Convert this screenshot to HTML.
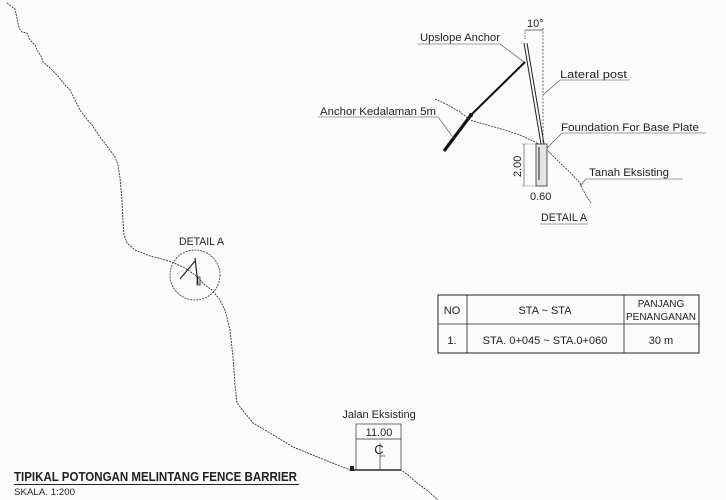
<!DOCTYPE html>
<html><head><meta charset="utf-8"><style>
html,body{margin:0;padding:0;background:#fbfbfb;}
svg{display:block;}
text{font-family:"Liberation Sans",sans-serif;fill:#222;}
</style></head><body>
<svg width="726" height="500" viewBox="0 0 726 500" xmlns="http://www.w3.org/2000/svg">
<rect x="0" y="0" width="726" height="500" fill="#fbfbfb"/>
<polyline fill="none" stroke="#333" stroke-width="0.9" stroke-dasharray="2,1"
 points="7,3 15,9 17,18 19,28 22,32 27,33 30,40 35,45 37,50 41,56 43,62 50,68 58,76 65,85 70,90 75,100 80,110 85,117 92,125 100,137 107,146 115,157 118,165 120,178 122,200 123,222 124,235 127,243 135,250 150,256 162,259 172,262 185,268 195,275 205,285 212,290 220,300 225,310 230,330 233,357 235,385 237,403 245,413 253,423 270,433 293,447 320,458 350,470 401,470 408,475 417,483 428,491 438,500"/>
<rect x="350" y="466" width="4" height="5" fill="#222"/>
<line x1="353" y1="470" x2="401" y2="470" stroke="#222" stroke-width="1.5"/>
<circle cx="195" cy="275" r="25" fill="none" stroke="#333" stroke-width="0.8" stroke-dasharray="2,1"/>
<line x1="180" y1="279" x2="195" y2="261" stroke="#222" stroke-width="1.2"/>
<line x1="195" y1="258" x2="198" y2="284" stroke="#222" stroke-width="1.2"/>
<rect x="197" y="277" width="3" height="8" fill="none" stroke="#222" stroke-width="0.8"/>
<text x="179" y="245" font-size="11" textLength="45" lengthAdjust="spacingAndGlyphs">DETAIL A</text>

<line x1="543" y1="28" x2="543" y2="145" stroke="#444" stroke-width="0.8" stroke-dasharray="2,1.5"/>
<line x1="525" y1="30" x2="525" y2="40" stroke="#444" stroke-width="0.7" stroke-dasharray="1.5,1"/>
<line x1="525" y1="30" x2="543" y2="30" stroke="#444" stroke-width="0.7"/>
<text x="527" y="27" font-size="11">10°</text>
<line x1="524" y1="43" x2="541" y2="144" stroke="#222" stroke-width="1"/>
<line x1="527" y1="43" x2="544" y2="144" stroke="#222" stroke-width="1"/>
<line x1="525" y1="62" x2="471" y2="115" stroke="#111" stroke-width="2"/>
<line x1="471" y1="115" x2="444" y2="151" stroke="#111" stroke-width="3.2"/>
<circle cx="471" cy="115" r="2" fill="#111"/>
<polyline fill="none" stroke="#333" stroke-width="0.8" stroke-dasharray="2,1"
 points="435,99 448,105 460,112 470,120 487,125 505,130 520,135 535,142 545,148 552,155 562,165 570,172 575,178 580,183 583,190 587,197 591,203"/>
<rect x="536" y="144" width="11" height="42" fill="#e4e4e4" stroke="#333" stroke-width="0.8"/>
<line x1="539" y1="147" x2="539" y2="180" stroke="#222" stroke-width="1"/>
<line x1="522" y1="144" x2="536" y2="144" stroke="#444" stroke-width="0.6" stroke-dasharray="1.5,1"/>
<line x1="522" y1="186" x2="536" y2="186" stroke="#444" stroke-width="0.6" stroke-dasharray="1.5,1"/>
<line x1="524" y1="144" x2="524" y2="186" stroke="#444" stroke-width="0.6"/>
<text transform="translate(521,177) rotate(-90)" font-size="11">2.00</text>
<text x="530" y="200" font-size="11">0.60</text>
<text x="420" y="41" font-size="11" textLength="80" lengthAdjust="spacingAndGlyphs">Upslope Anchor</text>
<polyline fill="none" stroke="#444" stroke-width="0.6" points="418,44 500,44 524,62"/>
<text x="560" y="78" font-size="11" textLength="67" lengthAdjust="spacingAndGlyphs">Lateral post</text>
<polyline fill="none" stroke="#444" stroke-width="0.6" points="630,80 560,80 543,95"/>
<text x="320" y="115" font-size="11" textLength="116" lengthAdjust="spacingAndGlyphs">Anchor Kedalaman 5m</text>
<polyline fill="none" stroke="#444" stroke-width="0.6" points="318,117 438,117 455,140"/>
<text x="561" y="131" font-size="11" textLength="138" lengthAdjust="spacingAndGlyphs">Foundation For Base Plate</text>
<polyline fill="none" stroke="#444" stroke-width="0.6" points="706,133 562,133 547,148"/>
<text x="589" y="176" font-size="11" textLength="80" lengthAdjust="spacingAndGlyphs">Tanah Eksisting</text>
<polyline fill="none" stroke="#444" stroke-width="0.6" points="683,179 586,179 580,186"/>
<text x="541" y="221" font-size="11" textLength="46" lengthAdjust="spacingAndGlyphs">DETAIL A</text>
<line x1="540" y1="224" x2="588" y2="224" stroke="#444" stroke-width="0.6"/>

<rect x="438" y="295" width="261" height="58" fill="none" stroke="#222" stroke-width="1"/>
<line x1="467" y1="295" x2="467" y2="353" stroke="#222" stroke-width="0.8"/>
<line x1="624" y1="295" x2="624" y2="353" stroke="#222" stroke-width="0.8"/>
<line x1="438" y1="324" x2="699" y2="324" stroke="#222" stroke-width="0.8"/>
<text x="452" y="314" font-size="11" text-anchor="middle">NO</text>
<text x="545" y="314" font-size="11" text-anchor="middle">STA ~ STA</text>
<text x="661" y="307" font-size="10" text-anchor="middle">PANJANG</text>
<text x="661" y="320" font-size="10" text-anchor="middle">PENANGANAN</text>
<text x="452" y="344" font-size="11" text-anchor="middle">1.</text>
<text x="545" y="344" font-size="11" text-anchor="middle">STA. 0+045 ~ STA.0+060</text>
<text x="661" y="344" font-size="11" text-anchor="middle">30 m</text>

<text x="379" y="418" font-size="11" text-anchor="middle">Jalan Eksisting</text>
<rect x="356" y="424" width="45" height="46" fill="none" stroke="#333" stroke-width="0.7"/>
<line x1="356" y1="439" x2="401" y2="439" stroke="#333" stroke-width="0.7"/>
<text x="379" y="436" font-size="11" text-anchor="middle">11.00</text>
<text x="379" y="454" font-size="13" text-anchor="middle">C</text>
<line x1="380" y1="443" x2="380" y2="470" stroke="#333" stroke-width="0.7"/>
<line x1="380" y1="456" x2="385" y2="456" stroke="#333" stroke-width="0.7"/>

<text x="14" y="481" font-size="13" font-weight="bold" textLength="283" lengthAdjust="spacingAndGlyphs">TIPIKAL POTONGAN MELINTANG FENCE BARRIER</text>
<line x1="14" y1="484.5" x2="299" y2="484.5" stroke="#222" stroke-width="1"/>
<text x="14" y="495" font-size="9" textLength="61" lengthAdjust="spacingAndGlyphs">SKALA. 1:200</text>
</svg>
</body></html>
